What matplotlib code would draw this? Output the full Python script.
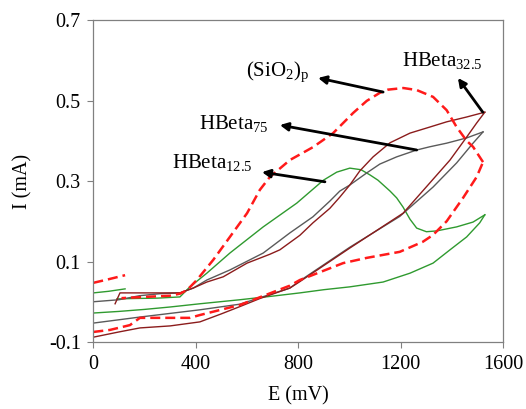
import matplotlib
matplotlib.use("Agg")
import matplotlib.pyplot as plt

plt.rcParams['font.family'] = ['Liberation Serif', 'DejaVu Serif']
plt.rcParams['mathtext.fontset'] = 'custom'
plt.rcParams['mathtext.rm'] = 'Liberation Serif'
plt.rcParams['mathtext.it'] = 'Liberation Serif:italic'

# ---------------- data (E in mV, I in mA) ----------------
# HBeta12.5 (green)
g_fwd_E = [0, 100, 200, 300, 416, 572, 700, 806, 900, 1001, 1131, 1236, 1326, 1392, 1457, 1508, 1528]
g_fwd_I = [-0.028, -0.024, -0.019, -0.013, -0.005, 0.005, 0.014, 0.022, 0.030, 0.037, 0.049, 0.071, 0.096, 0.129, 0.161, 0.196, 0.216]
g_rev_E = [1528, 1482, 1418, 1340, 1300, 1262, 1236, 1209, 1184, 1158, 1111, 1080, 1045, 1001, 950, 898, 794, 663, 533, 443, 377, 338, 250, 150, 92]
g_rev_I = [0.216, 0.198, 0.186, 0.176, 0.174, 0.183, 0.205, 0.235, 0.258, 0.275, 0.302, 0.315, 0.328, 0.332, 0.322, 0.302, 0.245, 0.186, 0.121, 0.071, 0.037, 0.012, 0.009, 0.008, 0.007]
g_start_E = [0, 60, 124]
g_start_I = [0.022, 0.026, 0.032]

# HBeta75 (gray)
k_fwd_E = [0, 182, 416, 572, 767, 806, 1000, 1196, 1326, 1418, 1482, 1521]
k_fwd_I = [-0.053, -0.038, -0.020, -0.006, 0.034, 0.052, 0.135, 0.212, 0.285, 0.345, 0.394, 0.422]
k_rev_E = [1521, 1457, 1379, 1313, 1262, 1184, 1118, 1067, 1001, 962, 923, 857, 767, 663, 533, 443, 390, 338, 260, 180, 100, 0]
k_rev_I = [0.422, 0.407, 0.394, 0.385, 0.377, 0.360, 0.342, 0.320, 0.290, 0.275, 0.250, 0.211, 0.171, 0.121, 0.079, 0.054, 0.034, 0.022, 0.020, 0.015, 0.005, 0.000]

# HBeta32.5 (brown)
b_fwd_E = [0, 100, 182, 300, 416, 500, 572, 650, 767, 806, 1000, 1209, 1313, 1392, 1457, 1496, 1528]
b_fwd_I = [-0.088, -0.075, -0.065, -0.060, -0.050, -0.030, -0.012, 0.008, 0.034, 0.050, 0.133, 0.220, 0.295, 0.352, 0.409, 0.444, 0.471]
b_rev_E = [1528, 1457, 1379, 1313, 1236, 1158, 1092, 1040, 1001, 962, 923, 857, 806, 728, 689, 600, 507, 443, 390, 338, 200, 104, 85]
b_rev_I = [0.471, 0.459, 0.447, 0.434, 0.419, 0.395, 0.360, 0.325, 0.290, 0.260, 0.232, 0.196, 0.165, 0.129, 0.118, 0.096, 0.062, 0.049, 0.034, 0.022, 0.022, 0.022, -0.005]

# (SiO2)p (red dashed)
r_fwd_E = [0, 65, 143, 182, 377, 416, 572, 767, 806, 975, 1067, 1196, 1286, 1326, 1379, 1443, 1496, 1521]
r_fwd_I = [-0.075, -0.070, -0.058, -0.040, -0.040, -0.033, -0.008, 0.040, 0.054, 0.096, 0.109, 0.124, 0.149, 0.166, 0.200, 0.258, 0.310, 0.347]
r_rev_E = [1521, 1482, 1457, 1418, 1379, 1326, 1262, 1210, 1150, 1118, 1067, 1014, 936, 857, 767, 689, 650, 600, 533, 468, 404, 366, 338, 299, 200, 110]
r_rev_I = [0.347, 0.385, 0.400, 0.434, 0.476, 0.509, 0.526, 0.531, 0.527, 0.519, 0.499, 0.469, 0.419, 0.384, 0.352, 0.310, 0.278, 0.220, 0.161, 0.104, 0.054, 0.029, 0.020, 0.015, 0.012, 0.009]
r_start_E = [0, 60, 124]
r_start_I = [0.047, 0.056, 0.066]

x_ticks = [0, 400, 800, 1200, 1600]
y_ticks = [-0.1, 0.1, 0.3, 0.5, 0.7]
y_tick_labels = ['-0.1', '0.1', '0.3', '0.5', '0.7']

# ---------------- figure ----------------
fig = plt.figure(figsize=(5.26, 4.09), dpi=100)
ax = fig.add_axes([0.1774, 0.1638, 0.7794, 0.7873])

green = '#2f9a2f'
gray = '#5a5a5a'
brown = '#8b1c1c'
red = '#ff1a1a'

ax.plot(g_fwd_E, g_fwd_I, color=green, lw=1.0)
ax.plot(g_rev_E, g_rev_I, color=green, lw=1.0)
ax.plot(g_start_E, g_start_I, color=green, lw=1.0)
ax.plot(k_fwd_E, k_fwd_I, color=gray, lw=1.0)
ax.plot(k_rev_E, k_rev_I, color=gray, lw=1.0)
ax.plot(b_fwd_E, b_fwd_I, color=brown, lw=1.0)
ax.plot(b_rev_E, b_rev_I, color=brown, lw=1.0)
ax.plot(r_fwd_E, r_fwd_I, color=red, lw=1.8, dashes=(4, 2))
ax.plot(r_rev_E, r_rev_I, color=red, lw=1.8, dashes=(4, 2))
ax.plot(r_start_E, r_start_I, color=red, lw=1.8, dashes=(4, 2))

ax.set_xlim(0, 1600)
ax.set_ylim(-0.1, 0.7)
ax.set_xticks(x_ticks)
ax.set_yticks(y_ticks)
ax.set_yticklabels(y_tick_labels)
ax.tick_params(direction='out', length=4, width=0.8, color='#808080', labelsize=14.5, pad=5)
for s in ax.spines.values():
    s.set_color('#808080')
    s.set_linewidth(0.9)

ax.set_xlabel('E (mV)', fontsize=14.5, labelpad=9)
ax.set_ylabel('I (mA)', fontsize=14.5, labelpad=12)

arrow = dict(arrowstyle='-|>', color='black', lw=2.0, mutation_scale=12, shrinkA=0, shrinkB=0)
ax.annotate('', xy=(877, 0.556), xytext=(1131, 0.521), arrowprops=arrow)
ax.annotate('', xy=(1423, 0.556), xytext=(1520, 0.471), arrowprops=arrow)
ax.annotate('', xy=(728, 0.439), xytext=(1262, 0.377), arrowprops=arrow)
ax.annotate('', xy=(658, 0.322), xytext=(904, 0.298), arrowprops=arrow)

ax.text(720, 0.571, r'(SiO$_{\mathregular{2}}$)$_{\mathregular{p}}$', fontsize=15, ha='center', va='center')
ax.text(1360, 0.600, r'HBeta$_{\mathregular{32.5}}$', fontsize=15, ha='center', va='center')
ax.text(549, 0.444, r'HBeta$_{\mathregular{75}}$', fontsize=15, ha='center', va='center')
ax.text(463, 0.345, r'HBeta$_{\mathregular{12.5}}$', fontsize=15, ha='center', va='center')

fig.savefig('out.png', dpi=100)
